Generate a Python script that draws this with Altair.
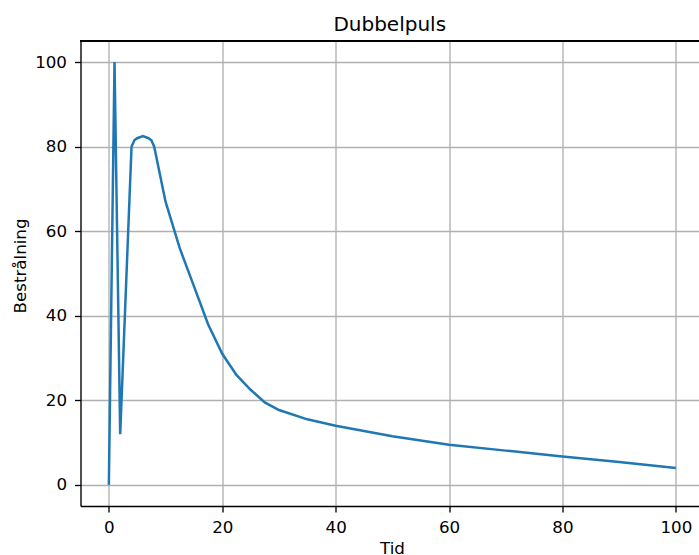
import altair as alt
import pandas as pd

# Data
tid = [0, 1, 2, 4, 4.5, 5, 6, 7, 7.5, 8, 10, 12.5, 15, 17.5, 20, 22.5, 25, 27.5, 30, 35, 40, 50, 60, 70, 80, 90, 100]
bestralning = [0, 100, 12, 80, 81.5, 82, 82.5, 82, 81.5, 80, 67, 56, 47, 38, 31, 26, 22.5, 19.5, 17.7, 15.5, 14, 11.5, 9.5, 8.1, 6.7, 5.4, 4]
x_ticks = [0, 20, 40, 60, 80, 100]
y_ticks = [0, 20, 40, 60, 80, 100]

df = pd.DataFrame({"Tid": tid, "Bestrålning": bestralning})

W = 618.5
H = 465
FONT = "DejaVu Sans"

line = alt.Chart(df).mark_line(color="#1f77b4", strokeWidth=2.5, clip=True).encode(
    x=alt.X(
        "Tid:Q",
        scale=alt.Scale(domain=[-5, 104.08], nice=False, zero=False),
        axis=alt.Axis(
            values=x_ticks, format="d", title="Tid",
            grid=True, gridColor="#b0b0b0", gridWidth=1.33,
            domainColor="black", domainWidth=1.33,
            tickColor="black", tickWidth=1.33, tickSize=6,
            labelFont=FONT, labelFontSize=16.7, labelColor="black", labelPadding=7,
            titleFont=FONT, titleFontSize=16.7, titleFontWeight="normal", titleColor="black",
            titleBaseline="top", titleY=34, titleX=311.5,
        ),
    ),
    y=alt.Y(
        "Bestrålning:Q",
        scale=alt.Scale(domain=[-5, 105], nice=False, zero=False),
        axis=alt.Axis(
            values=y_ticks, format="d", title="Bestrålning",
            grid=True, gridColor="#b0b0b0", gridWidth=1.33,
            domainColor="black", domainWidth=1.33,
            tickColor="black", tickWidth=1.33, tickSize=6,
            labelFont=FONT, labelFontSize=16.7, labelColor="black", labelPadding=8,
            titleFont=FONT, titleFontSize=16.7, titleFontWeight="normal", titleColor="black",
            titleAngle=270, titleBaseline="middle", titleX=-60.5, titleY=H / 2 - 8,
        ),
    ),
)

top_spine = alt.Chart(df).mark_rule(color="black", strokeWidth=1.33).encode(
    x=alt.value(0), x2=alt.value(W + 5), y=alt.value(0)
)

chart = alt.layer(line, top_spine).properties(
    width=W,
    height=H,
    title=alt.TitleParams("Dubbelpuls", font=FONT, fontSize=20, fontWeight="normal",
                          color="black", anchor="middle", offset=5),
    autosize=alt.AutoSizeParams(type="none"),
    padding={"left": 80.5, "top": 41, "right": 0, "bottom": 49},
).configure_view(stroke=None).configure(background="white")

chart.save("out.html", embed_options={"renderer": "svg", "actions": False})
